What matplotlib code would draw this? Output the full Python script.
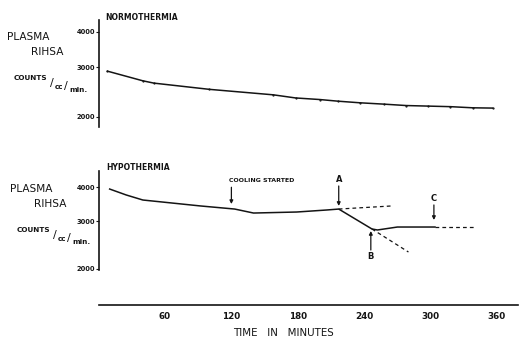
import numpy as np
import matplotlib.pyplot as plt
from matplotlib.ticker import FixedLocator, NullLocator

# plasma RIHSA, counts/cc/min, normothermia
t_norm = [8, 40, 50, 100, 158, 178, 200, 216, 236, 258, 278, 298, 318, 338, 356]
v_norm = [2900, 2680, 2630, 2500, 2390, 2330, 2300, 2270, 2240, 2215, 2190, 2180, 2170, 2150, 2145]

# hypothermia, measured part
t_hypo = [10, 25, 40, 92, 123, 140, 179, 206, 217, 247, 252, 270, 304]
v_hypo = [3940, 3745, 3588, 3411, 3322, 3211, 3239, 3295, 3322, 2803, 2779, 2850, 2850]

# extrapolated segments (dashed)
t_ext_a = [217, 265]
v_ext_a = [3322, 3411]
t_ext_b = [247, 280]
v_ext_b = [2803, 2303]
t_ext_c = [304, 340]
v_ext_c = [2850, 2850]

# event times, min
t_cool = 120
t_a = 217
t_b = 246
t_c = 303

y_ticks = [2000, 3000, 4000]
x_ticks = [60, 120, 180, 240, 300, 360]

W, H = 519, 342
fig = plt.figure(figsize=(W / 100, H / 100), dpi=100)
fig.patch.set_facecolor('white')
ink = '#141414'


def box(x0, y0, x1, y1):
    return [x0 / W, 1 - y1 / H, (x1 - x0) / W, (y1 - y0) / H]


def ftext(x, y, s, **kw):
    kw.setdefault('color', ink)
    kw.setdefault('fontweight', 'bold')
    kw.setdefault('va', 'center')
    fig.text(x / W, 1 - y / H, s, **kw)


def ylabel_block(x, y):
    ftext(x, y, 'PLASMA', fontsize=7.6, fontweight='normal')
    ftext(x + 24, y + 15, 'RIHSA', fontsize=7.6, fontweight='normal')
    ftext(x + 7, y + 41, 'COUNTS', fontsize=5.2)
    ftext(x + 43, y + 46, '/', fontsize=8, fontweight='normal')
    ftext(x + 48, y + 50, 'cc', fontsize=5.2)
    ftext(x + 57, y + 49, '/', fontsize=8, fontweight='normal')
    ftext(x + 62, y + 53, 'min.', fontsize=5.2)


def style_axis(ax, ylim):
    ax.set_yscale('log')
    ax.set_xlim(0, 379)
    ax.set_ylim(*ylim)
    ax.yaxis.set_major_locator(FixedLocator(y_ticks))
    ax.yaxis.set_minor_locator(NullLocator())
    ax.set_yticklabels([str(v) for v in y_ticks], fontsize=4.8, fontweight='bold', color=ink)
    ax.tick_params(axis='y', length=2, width=0.8, pad=0.5, color=ink)
    for s in ('top', 'right'):
        ax.spines[s].set_visible(False)
    ax.spines['left'].set_linewidth(1.2)
    ax.spines['left'].set_color(ink)
    ax.patch.set_alpha(0)


ax1 = fig.add_axes(box(98.6, 20, 518, 127))
style_axis(ax1, (1838, 4404))
ax1.spines['bottom'].set_visible(False)
ax1.set_xticks([])
ax1.plot(t_norm, v_norm, color=ink, lw=1.1, marker='.', ms=1.2)

ax2 = fig.add_axes(box(98.6, 171, 518, 305))
style_axis(ax2, (1466, 4595))
ax2.spines['left'].set_bounds(1975, 4595)
ax2.spines['bottom'].set_linewidth(1.2)
ax2.spines['bottom'].set_color(ink)
ax2.set_xticks(x_ticks)
ax2.set_xticklabels([str(v) for v in x_ticks], fontsize=6.3, fontweight='bold', color=ink)
ax2.tick_params(axis='x', length=0, pad=5)

ax2.plot(t_hypo, v_hypo, color=ink, lw=1.1)
for tx, vy in ((t_ext_a, v_ext_a), (t_ext_b, v_ext_b), (t_ext_c, v_ext_c)):
    ax2.plot(tx, vy, color=ink, lw=0.9, ls=(0, (3, 2.5)))

arrow = dict(arrowstyle='-|>', lw=0.9, color=ink, mutation_scale=5, shrinkA=0, shrinkB=0)
ax2.annotate('', xy=(t_cool, 3467), xytext=(t_cool, 4000), arrowprops=arrow)
ax2.annotate('', xy=(t_a, 3411), xytext=(t_a, 4044), arrowprops=arrow)
ax2.annotate('', xy=(t_b, 2755), xytext=(t_b, 2343), arrowprops=arrow)
ax2.annotate('', xy=(t_c, 3026), xytext=(t_c, 3440), arrowprops=arrow)

ax2.text(t_cool - 2, 4220, 'COOLING STARTED', fontsize=4.5, fontweight='bold', color=ink, va='center')
ax2.text(t_a, 4256, 'A', fontsize=6, fontweight='bold', color=ink, ha='center', va='center')
ax2.text(t_b, 2226, 'B', fontsize=6, fontweight='bold', color=ink, ha='center', va='center')
ax2.text(t_c, 3650, 'C', fontsize=6, fontweight='bold', color=ink, ha='center', va='center')

ftext(105, 18, 'NORMOTHERMIA', fontsize=5.5)
ftext(106, 167, 'HYPOTHERMIA', fontsize=5.5)
ylabel_block(7, 37)
ylabel_block(10, 189)
ftext(283, 333, 'TIME   IN   MINUTES', fontsize=7.4, ha='center', fontweight='normal')

fig.savefig('out.png', dpi=100)
